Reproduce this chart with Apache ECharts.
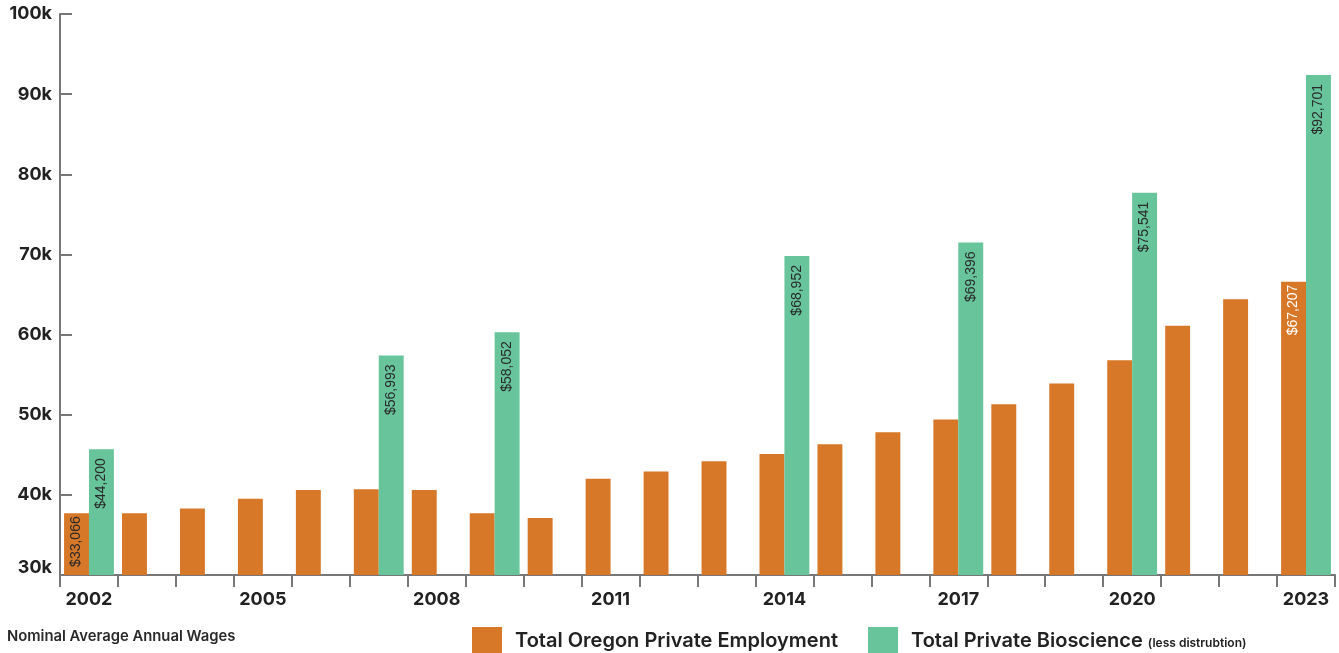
<!DOCTYPE html>
<html>
<head>
<meta charset="utf-8">
<script src="https://cdn.jsdelivr.net/npm/echarts@6/dist/echarts.min.js"></script>
<style>
html,body{margin:0;padding:0;background:#fff;}
#chart{width:1339px;height:653px;}
</style>
</head>
<body>
<div id="chart"></div>
<script>
const years = ['2002','2003','2004','2005','2006','2007','2008','2009','2010','2011','2012','2013','2014','2015','2016','2017','2018','2019','2020','2021','2022','2023'];
const oregonValues = [37700,37700,38300,39500,40600,40700,40600,37700,37100,42000,42900,44200,45100,46300,47800,49400,51300,53900,56800,61100,64400,66600];
const bioValues = [45700,null,null,null,null,57400,null,60300,null,null,null,null,69800,null,null,71500,null,null,77700,null,null,92400];
const oregonLabels = ['$33,066',null,null,null,null,null,null,null,null,null,null,null,null,null,null,null,null,null,null,null,null,'$67,207'];
const bioLabels = ['$44,200',null,null,null,null,'$56,993',null,'$58,052',null,null,null,null,'$68,952',null,null,'$69,396',null,null,'$75,541',null,null,'$92,701'];
const yTicks = [30000,40000,50000,60000,70000,80000,90000,100000];

const ORANGE = '#D67828';
const GREEN = '#67C49B';
const FONT = 'Inter';

function mkData(vals, labels, labelColors) {
  return vals.map((v, i) => {
    if (v == null) return null;
    const item = { value: v };
    if (labels[i]) {
      item.label = { show: true, formatter: labels[i], color: labelColors[i] || '#2a2a2a' };
    }
    return item;
  });
}

const chart = echarts.init(document.getElementById('chart'), null, { renderer: 'canvas' });
function labelBase(dist) {
  return {
    show: false,
    position: 'insideTop',
    distance: dist,
    rotate: 90,
    align: 'right',
    verticalAlign: 'middle',
    fontFamily: 'Liberation Sans',
    fontSize: 14,
    color: '#2a2a2a'
  };
}
const oregonColors = oregonLabels.map((l, i) => i === oregonLabels.length - 1 ? '#ffffff' : '#2a2a2a');
chart.setOption({
  animation: false,
  grid: { left: 60, right: 4, top: 14, bottom: 78 },
  xAxis: {
    type: 'category',
    data: years,
    axisLine: { lineStyle: { color: '#777', width: 2 } },
    axisTick: { show: true, interval: 0, length: 12, lineStyle: { color: '#777', width: 2 } },
    axisLabel: { interval: 2, margin: 16, fontFamily: FONT, fontWeight: 'bold', fontSize: 18, color: '#222' }
  },
  yAxis: {
    type: 'value',
    min: yTicks[0],
    max: yTicks[yTicks.length - 1],
    interval: 10000,
    splitLine: { show: false },
    axisLine: { show: true, lineStyle: { color: '#777', width: 2 } },
    axisTick: { show: true, inside: true, length: 12, lineStyle: { color: '#777', width: 2 } },
    axisLabel: {
      margin: 8,
      fontFamily: FONT, fontWeight: 'bold', fontSize: 18, color: '#222',
      formatter: v => v === yTicks[0] ? '{lo|' + (v / 1000) + 'k}' : (v / 1000) + 'k',
      rich: { lo: { fontFamily: FONT, fontWeight: 'bold', fontSize: 18, color: '#222', padding: [0, 0, 14, 0] } }
    }
  },
  legend: {
    bottom: 0,
    left: 472,
    padding: 0,
    itemWidth: 30,
    itemHeight: 26,
    itemGap: 30,
    icon: 'rect',
    textStyle: {
      fontFamily: FONT, fontWeight: 600, fontSize: 20, color: '#222', padding: [2, 0, 0, 8],
      rich: {
        s: { fontFamily: FONT, fontWeight: 600, fontSize: 12, color: '#222', padding: [5, 0, 0, 0] }
      }
    },
    formatter: name => name === 'Total Private Bioscience' ? name + ' {s|(less distrubtion)}' : name,
    data: ['Total Oregon Private Employment', 'Total Private Bioscience']
  },
  graphic: [{
    type: 'text',
    left: 7,
    top: 629,
    style: { text: 'Nominal Average Annual Wages', fontFamily: FONT, fontWeight: 600, fontSize: 14.8, fill: '#2a2a2a' }
  }],
  series: [
    {
      name: 'Total Oregon Private Employment',
      type: 'bar',
      barGap: '0%',
      barCategoryGap: '14%',
      itemStyle: { color: ORANGE },
      label: labelBase(3),
      data: mkData(oregonValues, oregonLabels, oregonColors)
    },
    {
      name: 'Total Private Bioscience',
      type: 'bar',
      itemStyle: { color: GREEN },
      label: labelBase(9),
      data: mkData(bioValues, bioLabels, [])
    }
  ]
});
</script>
</body>
</html>
